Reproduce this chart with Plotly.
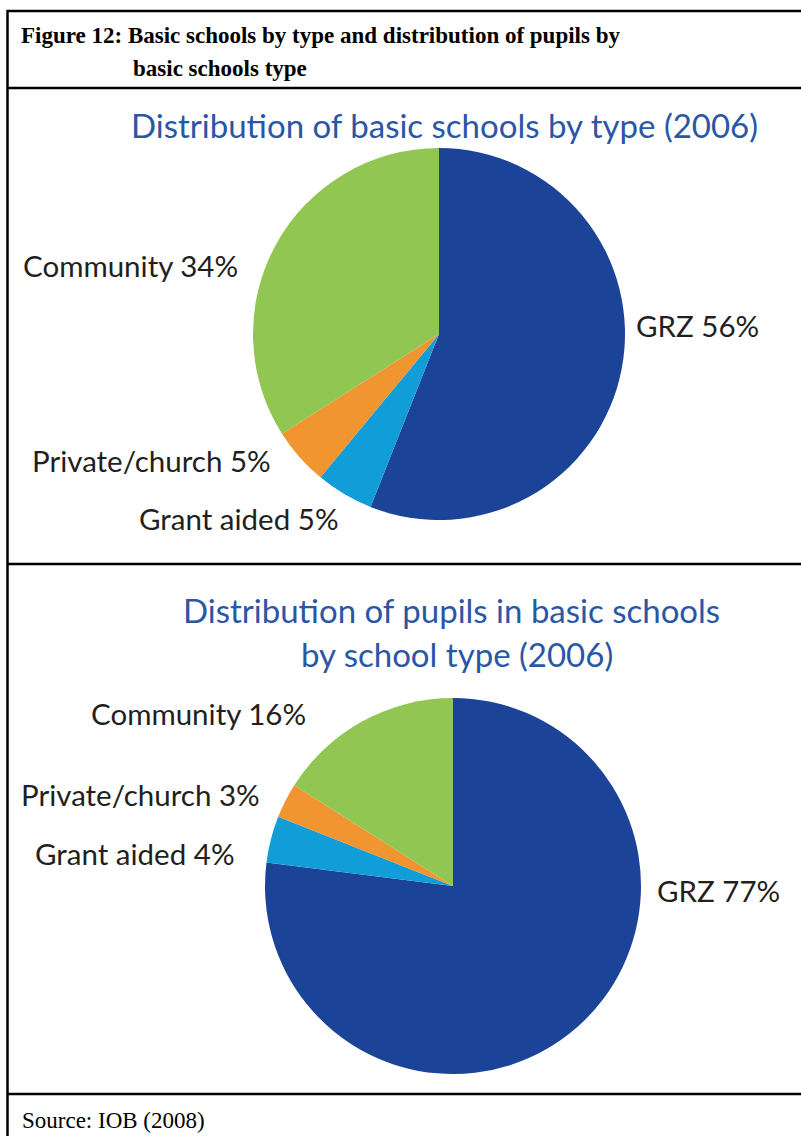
import plotly.graph_objects as go

# ---- data -------------------------------------------------------------
categories = ["GRZ", "Grant aided", "Private/church", "Community"]
schools_share = [56, 5, 5, 34]      # % of basic schools by type (2006)
pupils_share = [77, 4, 3, 16]       # % of pupils by school type (2006)
slice_colors = ["#1B4398", "#119DD8", "#F0952F", "#92C652"]

header_lines = ["Figure 12: Basic schools by type and distribution of pupils by",
                "basic schools type"]
title_schools = "Distribution of basic schools by type (2006)"
title_pupils = ["Distribution of pupils in basic schools", "by school type (2006)"]
source_text = "Source: IOB (2008)"

# ---- page geometry (pixels) ------------------------------------------
W, H = 801, 1136


def fx(x):
    return x / W


def fy(y):
    return 1 - y / H


def pie_domain(cx, cy, r):
    return dict(x=[fx(cx - r), fx(cx + r)], y=[fy(cy + r), fy(cy - r)])


fig = go.Figure()

fig.add_trace(go.Pie(
    labels=categories, values=schools_share, sort=False, direction="clockwise",
    rotation=0, textinfo="none", marker=dict(colors=slice_colors, line=dict(width=0)),
    domain=pie_domain(439, 334, 186), showlegend=False,
))
fig.add_trace(go.Pie(
    labels=categories, values=pupils_share, sort=False, direction="clockwise",
    rotation=0, textinfo="none", marker=dict(colors=slice_colors, line=dict(width=0)),
    domain=pie_domain(453, 886, 188), showlegend=False,
))

annotations = []
serif = "Liberation Serif, Times New Roman, serif"
sans = "Lato, Open Sans, sans-serif"
label_color = "#231F20"
title_color = "#2A56A6"


def add_text(text, x, y, size, family, color="#000000", bold=False, anchor="left"):
    annotations.append(dict(
        text=f"<b>{text}</b>" if bold else text,
        x=fx(x), y=fy(y), xref="paper", yref="paper",
        xanchor=anchor, yanchor="middle", showarrow=False,
        font=dict(size=size, family=family, color=color),
    ))


# header
add_text(header_lines[0], 19, 36, 23, serif, bold=True)
add_text(header_lines[1], 131, 68, 23, serif, bold=True)

# chart titles
add_text(title_schools, 444, 125, 33, sans, title_color, anchor="center")
add_text(title_pupils[0], 451, 610, 33, sans, title_color, anchor="center")
add_text(title_pupils[1], 457, 654, 33, sans, title_color, anchor="center")

# slice labels, upper chart
pos_schools = {"GRZ": (634, 325), "Grant aided": (137, 519),
               "Private/church": (30, 461), "Community": (21, 265)}
for cat, val in zip(categories, schools_share):
    x, y = pos_schools[cat]
    add_text(f"{cat} {val}%", x, y, 29.5, sans, label_color)

# slice labels, lower chart
pos_pupils = {"GRZ": (655, 890), "Grant aided": (33, 853),
              "Private/church": (19, 794), "Community": (89, 713)}
for cat, val in zip(categories, pupils_share):
    x, y = pos_pupils[cat]
    add_text(f"{cat} {val}%", x, y, 29.5, sans, label_color)

# source line
add_text(source_text, 20, 1120, 23, serif)

# table rules
shapes = []
line_style = dict(color="#000000", width=2.5)
for y in [11, 88, 564, 1094]:
    shapes.append(dict(type="line", xref="paper", yref="paper",
                       x0=fx(7), x1=1.0, y0=fy(y), y1=fy(y), line=line_style))
shapes.append(dict(type="line", xref="paper", yref="paper",
                   x0=fx(7.5), x1=fx(7.5), y0=fy(10), y1=0, line=line_style))

fig.update_layout(
    width=W, height=H, margin=dict(l=0, r=0, t=0, b=0),
    paper_bgcolor="#FFFFFF", plot_bgcolor="#FFFFFF",
    annotations=annotations, shapes=shapes,
)

fig.write_html("out.html", config={"displayModeBar": False})
